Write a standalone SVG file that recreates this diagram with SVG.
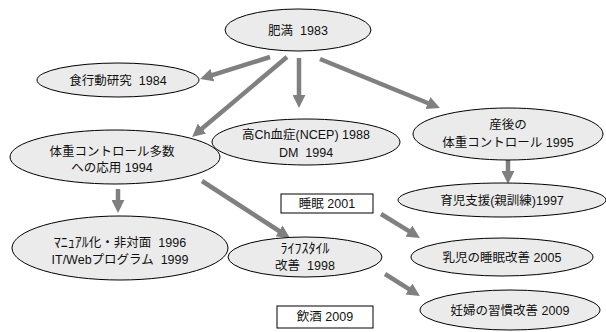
<svg xmlns="http://www.w3.org/2000/svg" width="606" height="332" viewBox="0 0 606 332">
<defs>
<style>
.n{fill:#ebebeb;stroke:#000;stroke-width:1}
.b{fill:#fff;stroke:#000;stroke-width:1}
.t{font-family:"Liberation Sans","Noto Sans CJK JP",sans-serif;font-size:12.5px;fill:#111;text-anchor:middle;white-space:pre}
.k{font-size:14px}
.c line{stroke:#808080;stroke-width:4.5;marker-end:url(#ah)}
</style>
<marker id="ah" viewBox="0 0 12 12" markerUnits="userSpaceOnUse" markerWidth="13" markerHeight="13" refX="1" refY="6" orient="auto">
<path d="M0,0 L12,6 L0,12 z" fill="#808080"/>
</marker>
</defs>
<rect width="606" height="332" fill="#fff"/>
<g class="c" id="connectors">
<line x1="270" y1="57" x2="211.4" y2="75.4"/>
<line x1="287" y1="57" x2="201.2" y2="129.3"/>
<line x1="299" y1="58" x2="299" y2="96"/>
<line x1="320" y1="59" x2="428.9" y2="103.5"/>
<line x1="508" y1="160" x2="508" y2="172"/>
<line x1="118" y1="189" x2="118" y2="201"/>
<line x1="202" y1="181" x2="279.9" y2="231.5"/>
<line x1="381" y1="214" x2="409.8" y2="231.7"/>
<line x1="385" y1="274" x2="409.8" y2="289.6"/>
</g>
<g id="n1"><ellipse class="n" cx="298" cy="30" rx="73" ry="21"/><text class="t" x="298" y="35">肥満  1983</text></g>
<g id="n2"><ellipse class="n" cx="118" cy="80" rx="81" ry="17"/><text class="t" x="118" y="85">食行動研究  1984</text></g>
<g id="n3"><ellipse class="n" cx="306" cy="142" rx="94" ry="23"/><text class="t" x="306" y="139">高Ch血症(NCEP) 1988</text><text class="t" x="306" y="157">DM  1994</text></g>
<g id="n4"><ellipse class="n" cx="508" cy="134" rx="95" ry="26"/><text class="t" x="508" y="129">産後の</text><text class="t" x="508" y="147">体重コントロール 1995</text></g>
<g id="n5"><ellipse class="n" cx="115" cy="157" rx="105" ry="27"/><text class="t" x="112" y="156">体重コントロール多数</text><text class="t" x="112" y="172">への応用 1994</text></g>
<g id="n6"><ellipse class="n" cx="120" cy="248" rx="108" ry="32"/><text class="t" x="120" y="247"><tspan class="k">ﾏﾆｭｱﾙ</tspan>化・非対面  1996</text><text class="t" x="120" y="264">IT/Webプログラム  1999</text></g>
<g id="n7"><ellipse class="n" cx="305" cy="257" rx="77" ry="20"/><text class="t k" x="305" y="253">ﾗｲﾌｽﾀｲﾙ</text><text class="t" x="305" y="270">改善  1998</text></g>
<g id="n8"><rect class="b" x="281" y="194" width="92" height="19"/><text class="t" x="327" y="208">睡眠 2001</text></g>
<g id="n9"><rect class="b" x="277" y="306" width="96" height="22"/><text class="t" x="325" y="321">飲酒 2009</text></g>
<g id="n10"><ellipse class="n" cx="502" cy="200" rx="104" ry="17"/><text class="t" x="502" y="205">育児支援(親訓練)1997</text></g>
<g id="n11"><ellipse class="n" cx="502" cy="257" rx="91" ry="19"/><text class="t" x="502" y="262">乳児の睡眠改善 2005</text></g>
<g id="n12"><ellipse class="n" cx="510" cy="310" rx="90" ry="20"/><text class="t" x="510" y="315">妊婦の習慣改善 2009</text></g>
</svg>
